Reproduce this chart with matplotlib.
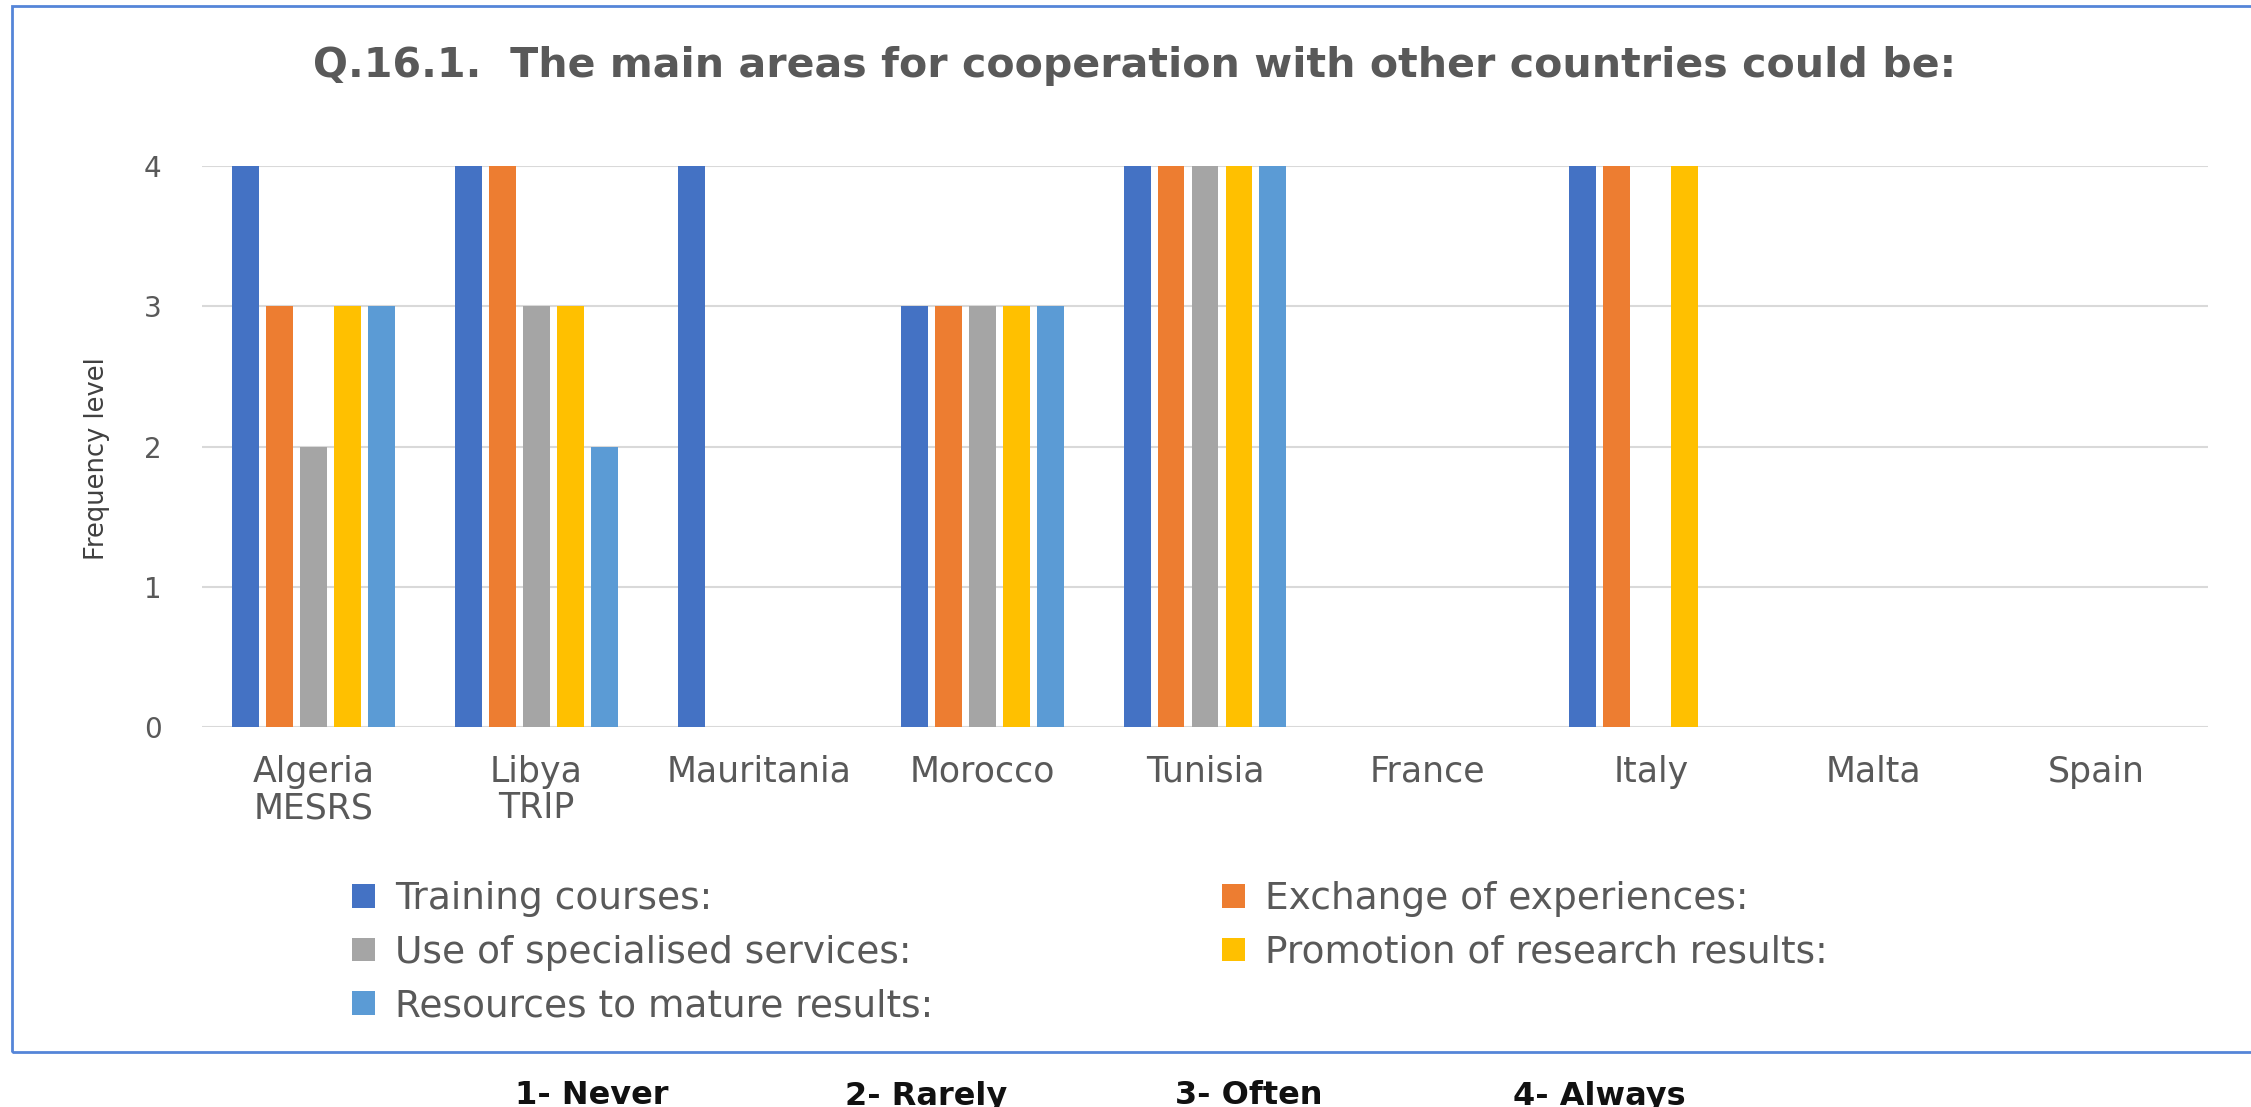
import matplotlib
matplotlib.use("Agg")
import matplotlib.pyplot as plt
from matplotlib.patches import Rectangle, Patch
import numpy as np

categories = ["Algeria\nMESRS", "Libya\nTRIP", "Mauritania", "Morocco", "Tunisia",
              "France", "Italy", "Malta", "Spain"]
series_names = ["Training courses:", "Exchange of experiences:",
                "Use of specialised services:", "Promotion of research results:",
                "Resources to mature results:"]
training = [4, 4, 4, 3, 4, 0, 4, 0, 0]
exchange = [3, 4, 0, 3, 4, 0, 4, 0, 0]
specialised = [2, 3, 0, 3, 4, 0, 0, 0, 0]
promotion = [3, 3, 0, 3, 4, 0, 4, 0, 0]
resources = [3, 2, 0, 3, 4, 0, 0, 0, 0]
yticks = [0, 1, 2, 3, 4]
title = "Q.16.1.  The main areas for cooperation with other countries could be:"
ylabel = "Frequency level"
scale_notes = ["1- Never", "2- Rarely", "3- Often", "4- Always"]

colors = ["#4472C4", "#ED7D31", "#A5A5A5", "#FFC000", "#5B9BD5"]
series = [training, exchange, specialised, promotion, resources]

W, H = 2251, 1107
fig = plt.figure(figsize=(W / 100, H / 100), dpi=100)
fig.patch.set_facecolor("white")

def fx(px):
    return px / W

def fy(py):
    return 1 - py / H

ax_left, ax_right, ax_top, ax_bot = 202, 2208, 166, 727
ax = fig.add_axes([fx(ax_left), fy(ax_bot), (ax_right - ax_left) / W, (ax_bot - ax_top) / H])

x = np.arange(len(categories))
pitch = 0.1525
bw = 0.121
for i, (vals, c, name) in enumerate(zip(series, colors, series_names)):
    ax.bar(x + (i - 2) * pitch, vals, width=bw, color=c, label=name, zorder=3)

ax.set_xlim(-0.5, len(categories) - 0.5)
ax.set_ylim(0, 4)
ax.set_yticks(yticks)
ax.set_yticklabels([str(v) for v in yticks], fontsize=20, color="#595959")
ax.set_xticks(x)
ax.set_xticklabels(categories, fontsize=25, color="#595959", linespacing=1.1)
ax.tick_params(axis="both", length=0)
ax.tick_params(axis="y", pad=29)
ax.tick_params(axis="x", pad=20)
ax.grid(axis="y", color="#D9D9D9", linewidth=1.5, zorder=0)
for s in ax.spines.values():
    s.set_visible(False)

fig.text(fx(1135), fy(66), title, ha="center", va="center", fontsize=29.6,
         fontweight="bold", color="#595959")
fig.text(fx(97), fy(459), ylabel, rotation=90, ha="center", va="center",
         fontsize=18.5, color="#404040")

# legend filled row by row as in the reference (matplotlib fills column-major)
order = [0, 2, 4, 1, 3]
handles = [Patch(facecolor=colors[k], edgecolor="none") for k in order]
labels = [series_names[k] for k in order]
leg = fig.legend(handles, labels, ncol=2, loc="upper left",
                 bbox_to_anchor=(fx(352), fy(881)), frameon=False,
                 fontsize=27, handlelength=0.6, handleheight=0.6,
                 handletextpad=0.55, columnspacing=7.7, labelspacing=0.47,
                 borderaxespad=0, borderpad=0)
for t in leg.get_texts():
    t.set_color("#595959")

note_x = [592, 926, 1249, 1599]
for xx, t in zip(note_x, scale_notes):
    fig.text(fx(xx), fy(1096), t, ha="center", va="center", fontsize=23,
             fontweight="bold", color="#111111")

border = Rectangle((fx(12), fy(1052)), fx(2300) - fx(12), fy(6) - fy(1052),
                   transform=fig.transFigure, fill=False, edgecolor="#5585D8",
                   linewidth=2.0, zorder=10)
fig.patches.append(border)

fig.savefig("out.png", dpi=100)
